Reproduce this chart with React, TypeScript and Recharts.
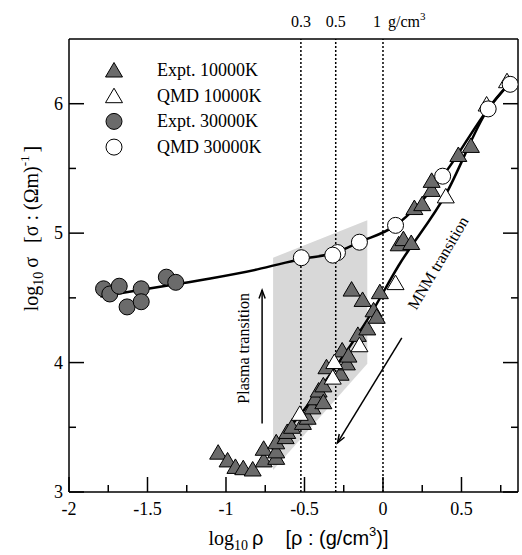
import React from "react";
import {
  ComposedChart,
  XAxis,
  YAxis,
  Line,
  Scatter,
  Area,
  ReferenceLine,
  ReferenceDot,
  Legend,
} from "recharts";

const serif = "'Liberation Serif', 'Times New Roman', serif";
const sans = "'Liberation Sans', Arial, sans-serif";

// axes
const xDomain: [number, number] = [-2, 0.86];
const yDomain: [number, number] = [3, 6.5];
const xTicks = [-2, -1.75, -1.5, -1.25, -1, -0.75, -0.5, -0.25, 0, 0.25, 0.5, 0.75];
const xMajorTicks = [-2, -1.5, -1, -0.5, 0, 0.5];
const yTicks = [3, 3.5, 4, 4.5, 5, 5.5, 6];
const yMajorTicks = [3, 4, 5, 6];

// densities marked on top (g/cm3)
const densityMarks = [0.3, 0.5, 1];
const densityLabels = ["0.3", "0.5", "1"];

// [log10 rho, log10 sigma]
const expt10000: [number, number][] = [
  [-1.05, 3.3], [-0.99, 3.24], [-0.94, 3.19], [-0.89, 3.18], [-0.83, 3.17],
  [-0.76, 3.24], [-0.76, 3.33], [-0.68, 3.26], [-0.68, 3.31], [-0.68, 3.38],
  [-0.62, 3.42], [-0.61, 3.46], [-0.58, 3.5], [-0.51, 3.53], [-0.48, 3.57],
  [-0.45, 3.65], [-0.43, 3.72], [-0.41, 3.78], [-0.38, 3.69], [-0.38, 3.82],
  [-0.36, 3.96], [-0.27, 3.91], [-0.26, 4.09], [-0.23, 3.99], [-0.22, 4.05],
  [-0.16, 4.21], [-0.1, 4.26], [-0.06, 4.4], [-0.04, 4.35], [-0.2, 4.56],
  [-0.13, 4.48], [-0.02, 4.54], [0.1, 4.91], [0.13, 4.95], [0.18, 4.92],
  [0.2, 5.19], [0.25, 5.22], [0.31, 5.33], [0.31, 5.4], [0.48, 5.6], [0.56, 5.67],
];
const qmd10000: [number, number][] = [
  [-0.53, 3.6], [-0.32, 3.88], [-0.31, 4.0], [-0.15, 4.13], [0.08, 4.61],
  [0.4, 5.28], [0.66, 5.99], [0.79, 6.17],
];
const expt30000: [number, number][] = [
  [-1.78, 4.57], [-1.74, 4.53], [-1.68, 4.59], [-1.63, 4.43], [-1.54, 4.57],
  [-1.54, 4.47], [-1.38, 4.66], [-1.32, 4.62],
];
const qmd30000: [number, number][] = [
  [-0.29, 4.85], [-0.52, 4.81], [-0.32, 4.83], [-0.15, 4.93], [0.08, 5.06],
  [0.38, 5.44], [0.67, 5.96], [0.81, 6.15],
];

// guide curves
const curve10000: [number, number][] = [
  [-0.71, 3.33], [-0.5, 3.64], [-0.3, 3.97], [-0.1, 4.33], [0.1, 4.75],
  [0.4, 5.3], [0.67, 5.96], [0.8, 6.15],
];
const curve30000: [number, number][] = [
  [-1.8, 4.51], [-1.4, 4.59], [-1.1, 4.65], [-0.8, 4.72], [-0.52, 4.8],
  [-0.3, 4.85], [-0.15, 4.93], [0.08, 5.06], [0.38, 5.44], [0.67, 5.96], [0.8, 6.15],
];

// shaded transition band: x, lower, upper
const bandX = [-0.7, -0.1];
const bandLow = [3.17, 3.99];
const bandHigh = [4.81, 5.1];

// annotations
const plasmaArrow: [number, number][] = [[-0.77, 3.53], [-0.77, 4.56]];
const mnmArrow: [number, number][] = [[0.12, 4.19], [-0.29, 3.38]];
const plasmaText = { x: -0.89, y: 4.11, text: "Plasma transition" };
const mnmText = { x: 0.35, y: 4.77, text: "MNM transition" };

const pts = (a: [number, number][]) => a.map(([x, y]) => ({ x, y }));
const bandData = bandX.map((x, i) => ({ x, band: [bandLow[i], bandHigh[i]] }));

const FILL = "#6b6b6b";
const MAJOR = 15;
const MINOR = 7;

const Tri = ({ cx, cy, fill }: any) => (
  <polygon
    points={`${cx},${cy - 8.5} ${cx - 8.5},${cy + 6} ${cx + 8.5},${cy + 6}`}
    fill={fill}
    stroke="#000"
    strokeWidth={1}
  />
);
const Dot = ({ cx, cy, fill }: any) => (
  <circle cx={cx} cy={cy} r={8} fill={fill} stroke="#000" strokeWidth={1} />
);

// inward ticks, long on majors; labels only where asked
const AxisTick = ({ x, y, payload, side, labels }: any) => {
  const v = payload.value;
  const major = (side === "bottom" || side === "top" ? xMajorTicks : yMajorTicks).includes(v);
  const len = major ? MAJOR : MINOR;
  let line;
  let label = null;
  if (side === "bottom") {
    line = <line x1={x} x2={x} y1={y} y2={y - len} />;
    if (labels && major)
      label = (
        <text x={x} y={y + 23} textAnchor="middle" fontFamily={serif} fontSize={18} fill="#000" stroke="none">
          {v}
        </text>
      );
  } else if (side === "top") {
    line = <line x1={x} x2={x} y1={y} y2={y + len} />;
  } else if (side === "left") {
    line = <line x1={x} x2={x + len} y1={y} y2={y} />;
    if (labels && major)
      label = (
        <text x={x - 6} y={y + 6} textAnchor="end" fontFamily={serif} fontSize={18} fill="#000" stroke="none">
          {v}
        </text>
      );
  } else {
    line = <line x1={x} x2={x - len} y1={y} y2={y} />;
  }
  return (
    <g stroke="#000" strokeWidth={1.5}>
      {line}
      {label}
    </g>
  );
};

const Arrow = (p: any) => {
  const { x1, y1, x2, y2 } = p;
  const a = Math.atan2(y2 - y1, x2 - x1);
  const L = 9;
  const s = 0.35;
  return (
    <g stroke="#000" strokeWidth={1.5} fill="none">
      <line x1={x1} y1={y1} x2={x2} y2={y2} />
      <polyline
        points={`${x2 - L * Math.cos(a - s)},${y2 - L * Math.sin(a - s)} ${x2},${y2} ${
          x2 - L * Math.cos(a + s)
        },${y2 - L * Math.sin(a + s)}`}
      />
    </g>
  );
};

const RotText = ({ cx, cy, text, angle }: any) => (
  <text
    x={cx}
    y={cy}
    transform={`rotate(${angle} ${cx} ${cy})`}
    textAnchor="middle"
    dominantBaseline="central"
    fontFamily={serif}
    fontSize={16}
    fill="#000"
  >
    {text}
  </text>
);

const TopLabel = ({ viewBox, text }: any) => {
  const x = viewBox.x;
  const y = viewBox.y - 12;
  if (text === "1") {
    return (
      <text x={x - 6} y={y} fontFamily={serif} fontSize={16} fill="#000" textAnchor="middle">
        1
        <tspan x={x + 5} textAnchor="start">g/cm</tspan>
        <tspan fontSize={11} dy={-7}>3</tspan>
      </text>
    );
  }
  return (
    <text x={x} y={y} fontFamily={serif} fontSize={16} fill="#000" textAnchor="middle">
      {text}
    </text>
  );
};

const XLabel = ({ viewBox }: any) => (
  <text
    x={viewBox.x + viewBox.width / 2 + 5}
    y={viewBox.y + 53}
    textAnchor="middle"
    fontFamily={serif}
    fontSize={20}
    fill="#000"
  >
    log
    <tspan fontSize={14} dy={5}>10</tspan>
    <tspan dy={-5} dx={4} fontFamily={sans}>ρ</tspan>
    <tspan dx={22} fontFamily={sans}>[ρ : (g/cm</tspan>
    <tspan fontSize={13} dy={-9} fontFamily={sans}>3</tspan>
    <tspan dy={9} fontFamily={sans}>)]</tspan>
  </text>
);

const YLabel = ({ viewBox }: any) => {
  const cx = viewBox.x - 30;
  const cy = viewBox.y + viewBox.height / 2 - 37;
  return (
    <text
      x={cx}
      y={cy}
      transform={`rotate(-90 ${cx} ${cy})`}
      textAnchor="middle"
      fontFamily={serif}
      fontSize={20}
      fill="#000"
    >
      log
      <tspan fontSize={14} dy={5}>10</tspan>
      <tspan dy={-5} dx={4}>σ</tspan>
      <tspan dx={14}>[σ : (Ωm)</tspan>
      <tspan fontSize={13} dy={-9}>-1</tspan>
      <tspan dy={9} dx={3}>]</tspan>
    </text>
  );
};

const legendRows = [
  { name: "Expt. 10000K", marker: "tri", fill: FILL },
  { name: "QMD 10000K", marker: "tri", fill: "#fff" },
  { name: "Expt. 30000K", marker: "dot", fill: FILL },
  { name: "QMD 30000K", marker: "dot", fill: "#fff" },
];

const LegendBox = () => (
  <svg width={190} height={110}>
    {legendRows.map((r, i) => {
      const cy = 15 + i * 25.7;
      return (
        <g key={r.name}>
          {r.marker === "tri" ? (
            <Tri cx={19} cy={cy + 1} fill={r.fill} />
          ) : (
            <Dot cx={19} cy={cy} fill={r.fill} />
          )}
          <text x={62} y={cy + 6} fontFamily={serif} fontSize={18} fill="#000">
            {r.name}
          </text>
        </g>
      );
    })}
  </svg>
);

const axisStroke = { stroke: "#000", strokeWidth: 1.5 };

export default function App() {
  return (
    <div style={{ position: "absolute", left: 0, top: 0, background: "#fff" }}>
      <ComposedChart width={522} height={555} margin={{ top: 38, right: 3, bottom: 62, left: 68 }}>
        <XAxis
          xAxisId="b"
          dataKey="x"
          type="number"
          orientation="bottom"
          domain={xDomain}
          allowDataOverflow
          ticks={xTicks}
          interval={0}
          height={1}
          tickSize={0}
          tickMargin={0}
          tickLine={false}
          tick={(p: any) => <AxisTick {...p} side="bottom" labels />}
          axisLine={axisStroke}
          label={(p: any) => <XLabel {...p} />}
        />
        <XAxis
          xAxisId="t"
          type="number"
          orientation="top"
          domain={xDomain}
          allowDataOverflow
          ticks={xTicks}
          interval={0}
          height={1}
          tickSize={0}
          tickMargin={0}
          tickLine={false}
          tick={(p: any) => <AxisTick {...p} side="top" />}
          axisLine={axisStroke}
        />
        <YAxis
          yAxisId="l"
          dataKey="y"
          type="number"
          orientation="left"
          domain={yDomain}
          allowDataOverflow
          ticks={yTicks}
          interval={0}
          width={1}
          tickSize={0}
          tickMargin={0}
          tickLine={false}
          tick={(p: any) => <AxisTick {...p} side="left" labels />}
          axisLine={axisStroke}
          label={(p: any) => <YLabel {...p} />}
        />
        <YAxis
          yAxisId="r"
          type="number"
          orientation="right"
          domain={yDomain}
          allowDataOverflow
          ticks={yTicks}
          interval={0}
          width={1}
          tickSize={0}
          tickMargin={0}
          tickLine={false}
          tick={(p: any) => <AxisTick {...p} side="right" />}
          axisLine={axisStroke}
        />

        <Area
          xAxisId="b"
          yAxisId="l"
          data={bandData}
          dataKey="band"
          type="linear"
          stroke="none"
          fill="#d8d8d8"
          fillOpacity={1}
          dot={false}
          activeDot={false}
          isAnimationActive={false}
        />

        {densityMarks.map((d, i) => (
          <ReferenceLine
            key={d}
            xAxisId="b"
            yAxisId="l"
            x={Math.log10(d)}
            stroke="#000"
            strokeWidth={1.5}
            strokeDasharray="2 2"
            label={(p: any) => <TopLabel {...p} text={densityLabels[i]} />}
          />
        ))}

        <Line
          xAxisId="b"
          yAxisId="l"
          data={pts(curve30000)}
          dataKey="y"
          type="monotone"
          stroke="#000"
          strokeWidth={2.5}
          dot={false}
          activeDot={false}
          isAnimationActive={false}
        />
        <Line
          xAxisId="b"
          yAxisId="l"
          data={pts(curve10000)}
          dataKey="y"
          type="monotone"
          stroke="#000"
          strokeWidth={2.5}
          dot={false}
          activeDot={false}
          isAnimationActive={false}
        />

        <Scatter
          xAxisId="b"
          yAxisId="l"
          data={pts(expt10000)}
          shape={(p: any) => <Tri cx={p.cx} cy={p.cy} fill={FILL} />}
          isAnimationActive={false}
        />
        <Scatter
          xAxisId="b"
          yAxisId="l"
          data={pts(expt30000)}
          shape={(p: any) => <Dot cx={p.cx} cy={p.cy} fill={FILL} />}
          isAnimationActive={false}
        />
        <Scatter
          xAxisId="b"
          yAxisId="l"
          data={pts(qmd10000)}
          shape={(p: any) => <Tri cx={p.cx} cy={p.cy} fill="#fff" />}
          isAnimationActive={false}
        />
        <Scatter
          xAxisId="b"
          yAxisId="l"
          data={pts(qmd30000)}
          shape={(p: any) => <Dot cx={p.cx} cy={p.cy} fill="#fff" />}
          isAnimationActive={false}
        />

        <ReferenceLine
          xAxisId="b"
          yAxisId="l"
          segment={plasmaArrow.map(([x, y]) => ({ x, y }))}
          shape={(p: any) => <Arrow {...p} />}
        />
        <ReferenceLine
          xAxisId="b"
          yAxisId="l"
          segment={mnmArrow.map(([x, y]) => ({ x, y }))}
          shape={(p: any) => <Arrow {...p} />}
        />
        <ReferenceDot
          xAxisId="b"
          yAxisId="l"
          x={plasmaText.x}
          y={plasmaText.y}
          r={0}
          shape={(p: any) => <RotText cx={p.cx} cy={p.cy} text={plasmaText.text} angle={-90} />}
        />
        <ReferenceDot
          xAxisId="b"
          yAxisId="l"
          x={mnmText.x}
          y={mnmText.y}
          r={0}
          shape={(p: any) => <RotText cx={p.cx} cy={p.cy} text={mnmText.text} angle={-59.5} />}
        />

        <Legend
          layout="vertical"
          align="center"
          verticalAlign="middle"
          wrapperStyle={{ left: 95, top: 55, width: 190, height: 110 }}
          content={() => <LegendBox />}
        />
      </ComposedChart>
    </div>
  );
}
